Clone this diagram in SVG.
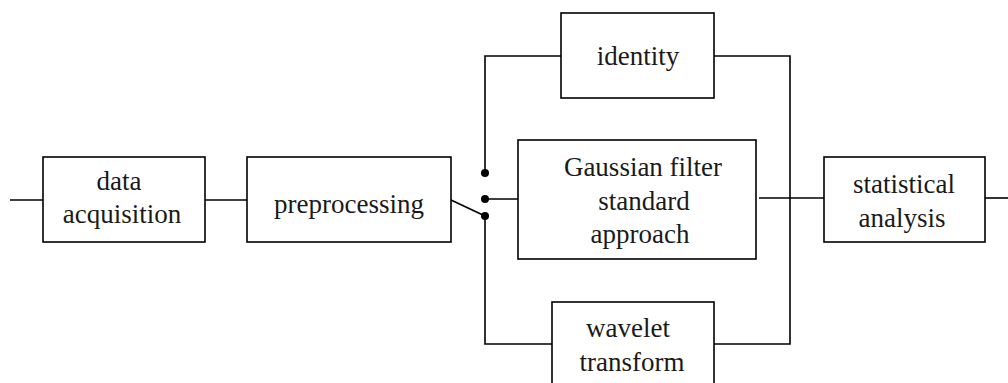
<svg xmlns="http://www.w3.org/2000/svg" width="1008" height="383" viewBox="0 0 1008 383">
<style>
.box{fill:#fff;stroke:#000;stroke-width:1.6}
.ln{fill:none;stroke:#000;stroke-width:1.6}
text{font-family:"Liberation Serif","DejaVu Serif",serif;font-size:27px;fill:#1a1a1a;text-anchor:middle}
</style>
<rect width="1008" height="383" fill="#fff"/>
<g id="connectors">
<path class="ln" d="M10,200H43"/>
<path class="ln" d="M205,200H247"/>
<path class="ln" d="M451,200L485,216"/>
<path class="ln" d="M485,173V56H561"/>
<path class="ln" d="M485,199H518"/>
<path class="ln" d="M485,216V344H552"/>
<path class="ln" d="M714,56H790V344H714"/>
<path class="ln" d="M759,198H824"/>
<path class="ln" d="M985,198H1008"/>
<circle cx="485" cy="173" r="4"/>
<circle cx="485" cy="199" r="4"/>
<circle cx="485" cy="216" r="4"/>
</g>
<g id="data-acquisition">
<rect class="box" x="43" y="157" width="162" height="85"/>
<text x="119" y="190">data</text>
<text x="122" y="223">acquisition</text>
</g>
<g id="preprocessing">
<rect class="box" x="247" y="157" width="204" height="85"/>
<text x="349" y="213">preprocessing</text>
</g>
<g id="identity">
<rect class="box" x="561" y="13" width="153" height="85"/>
<text x="638" y="65">identity</text>
</g>
<g id="gaussian">
<rect class="box" x="518" y="140" width="238" height="119"/>
<text x="643" y="176">Gaussian filter</text>
<text x="644" y="210">standard</text>
<text x="640" y="243">approach</text>
</g>
<g id="wavelet">
<rect class="box" x="552" y="302" width="162" height="95"/>
<text x="628" y="337">wavelet</text>
<text x="632" y="371">transform</text>
</g>
<g id="statistical-analysis">
<rect class="box" x="824" y="157" width="161" height="85"/>
<text x="904" y="193">statistical</text>
<text x="902" y="227">analysis</text>
</g>
</svg>
